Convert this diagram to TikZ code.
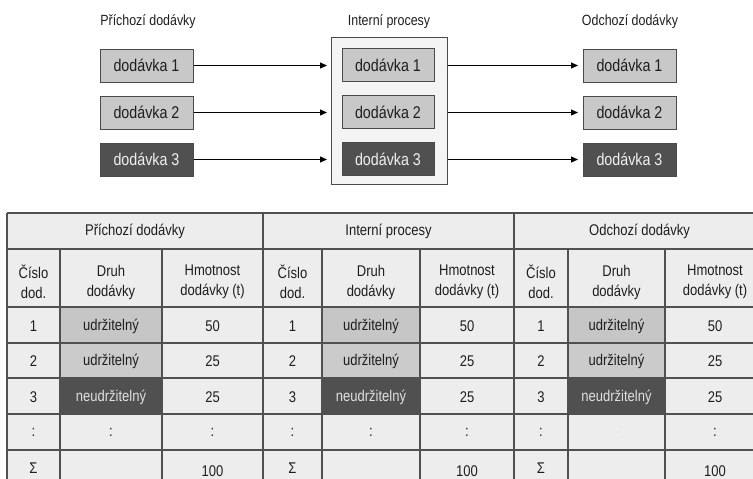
\documentclass[tikz,border=0pt]{standalone}
\usepackage{fontspec}
\setmainfont{Liberation Sans}[FakeStretch=0.84]
\usetikzlibrary{arrows.meta}

\definecolor{boxlight}{HTML}{C8C8C8}
\definecolor{boxdark}{HTML}{505050}
\definecolor{edge}{HTML}{4A4A4A}
\definecolor{framebg}{HTML}{F4F4F4}
\definecolor{cellbg}{HTML}{EDEDED}
\definecolor{cellmid}{HTML}{C6C6C6}
\definecolor{cellmidb}{HTML}{CBCBCB}
\definecolor{rule}{HTML}{505050}
\definecolor{txt}{HTML}{1E1E1E}

\tikzset{
  lot/.style={draw=edge, line width=1pt, minimum width=93pt, minimum height=33pt,
    inner sep=0pt, font=\fontsize{17}{20}\selectfont},
  lotlight/.style={lot, fill=boxlight, text=txt},
  lotdark/.style={lot, fill=boxdark, text=white!94!black},
  title/.style={font=\fontsize{14.8}{17}\selectfont, text=txt},
  flow/.style={-{Triangle[length=7pt,width=6pt]}, line width=0.9pt, black},
  cell/.style={font=\fontsize{15.5}{20}\selectfont, text=txt, align=center, inner sep=0pt},
  grid/.style={draw=rule, line width=1.1pt},
}

\begin{document}
\begin{tikzpicture}[x=1pt, y=-1pt]
\useasboundingbox (0,0) rectangle (753,479);
\clip (0,0) rectangle (753,479);

% ---------- flow of the lots ----------
\node[title] (tin)  at (148,22) {Příchozí dodávky};
\node[title] (tmid) at (389,22) {Interní procesy};
\node[title] (tout) at (630,22) {Odchozí dodávky};

\node[draw=edge, fill=framebg, line width=1pt, minimum width=116pt,
      minimum height=147pt, inner sep=0pt] (proc) at (389,110.5) {};

\node[lotlight] (in1) at (146.5,65.5)  {dodávka 1};
\node[lotlight] (in2) at (146.5,112.5) {dodávka 2};
\node[lotdark]  (in3) at (146.5,159.5) {dodávka 3};

\node[lotlight, minimum width=92pt] (mid1) at (388,65)  {dodávka 1};
\node[lotlight, minimum width=92pt] (mid2) at (388,112) {dodávka 2};
\node[lotdark,  minimum width=92pt] (mid3) at (388,159) {dodávka 3};

\node[lotlight] (out1) at (629.5,65.5)  {dodávka 1};
\node[lotlight] (out2) at (629.5,112.5) {dodávka 2};
\node[lotdark]  (out3) at (629.5,159.5) {dodávka 3};

\foreach \i in {1,2,3}{
  \draw[flow, shorten >=3.5pt] (in\i.east) -- (in\i.east -| proc.west);
  \draw[flow, shorten >=4.5pt] (in\i.east -| proc.east) -- (out\i.west);
}

% ---------- table ----------
\fill[cellbg] (7,213) rectangle (770,495);

\foreach \a/\b/\c/\d/\g/\ttl/\dotc in {
    7/60/162/263/1/Příchozí dodávky/txt,
    263/322/420/514/2/Interní procesy/txt,
    514/568/665/765/3/Odchozí dodávky/white}{
  % shaded cells of the lot kind column
  \fill[cellmid]  (\b,307) rectangle (\c,343);
  \fill[cellmidb] (\b,343) rectangle (\c,378);
  \fill[boxdark]  (\b,378) rectangle (\c,414);
  % group heading
  \node[cell] (h\g) at ({(\a+\d)/2},231) {\ttl};
  % column headings
  \node[cell] (h\g a) at ({(\a+\b)/2},282) {Číslo\\dod.};
  \node[cell] (h\g b) at ({(\b+\c)/2},282) {Druh\\dodávky};
  \node[cell] (h\g c) at ({(\c+\d)/2},282) {Hmotnost\\dodávky (t)};
  % rows
  \node[cell] (r\g a1) at ({(\a+\b)/2},326) {1};
  \node[cell] (r\g b1) at ({(\b+\c)/2},326) {udržitelný};
  \node[cell] (r\g c1) at ({(\c+\d)/2},326) {50};
  \node[cell] (r\g a2) at ({(\a+\b)/2},361) {2};
  \node[cell] (r\g b2) at ({(\b+\c)/2},361) {udržitelný};
  \node[cell] (r\g c2) at ({(\c+\d)/2},361) {25};
  \node[cell] (r\g a3) at ({(\a+\b)/2},397) {3};
  \node[cell, text=white!88!black] (r\g b3) at ({(\b+\c)/2},397) {neudržitelný};
  \node[cell] (r\g c3) at ({(\c+\d)/2},397) {25};
  \node[cell] (r\g a4) at ({(\a+\b)/2},432) {:};
  \node[cell, text=\dotc] (r\g b4) at ({(\b+\c)/2},432) {:};
  \node[cell] (r\g c4) at ({(\c+\d)/2},432) {:};
  \node[cell] (r\g a5) at ({(\a+\b)/2},468) {Σ};
  \node[cell] (r\g c5) at ({(\c+\d)/2},471) {100};
  % inner column rules
  \draw[grid] (\b,249) -- (\b,495);
  \draw[grid] (\c,249) -- (\c,495);
  \draw[grid] (\d,213) -- (\d,495);
}

% outer and row rules
\draw[grid] (7,213) -- (7,495);
\foreach \y in {213,249,307,343,378,414,450}
  \draw[grid] (7,\y) -- (770,\y);
\end{tikzpicture}
\end{document}
